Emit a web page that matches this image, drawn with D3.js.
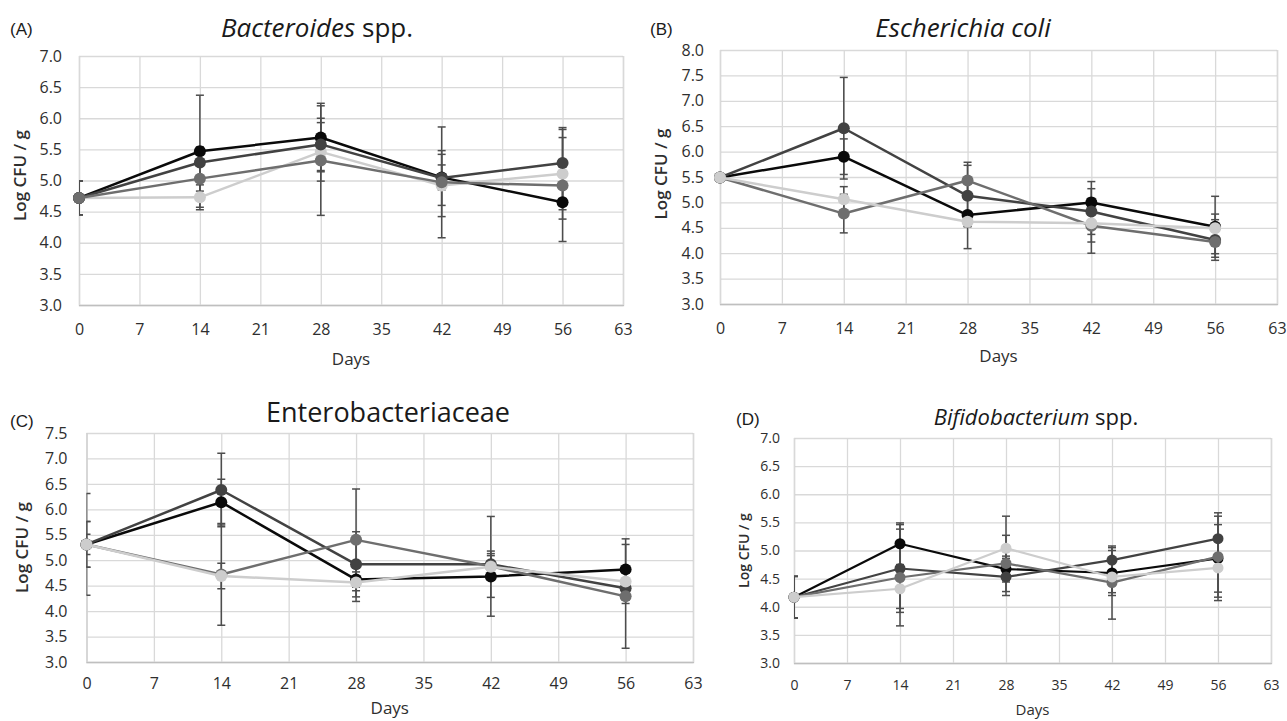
<!DOCTYPE html>
<html>
<head>
<meta charset="utf-8">
<script src="https://cdn.jsdelivr.net/npm/d3@7"></script>
<style>
  body { margin: 0; background: #fff; }
  svg { display: block; font-family: "Open Sans", sans-serif; }
</style>
</head>
<body>
<script>
// sampling days and axis ticks
var days = [0, 14, 28, 42, 56];
var dayTicks = [0, 7, 14, 21, 28, 35, 42, 49, 56, 63];

var panelLetters = ["(A)", "(B)", "(C)", "(D)"];
// title pieces: [text, italic]
var titleA = [["Bacteroides", true], [" spp.", false]];
var titleB = [["Escherichia coli", true]];
var titleC = [["Enterobacteriaceae", false]];
var titleD = [["Bifidobacterium", true], [" spp.", false]];

var yTicksA = [3.0, 3.5, 4.0, 4.5, 5.0, 5.5, 6.0, 6.5, 7.0];
var yTicksB = [3.0, 3.5, 4.0, 4.5, 5.0, 5.5, 6.0, 6.5, 7.0, 7.5, 8.0];
var yTicksC = [3.0, 3.5, 4.0, 4.5, 5.0, 5.5, 6.0, 6.5, 7.0, 7.5];
var yTicksD = [3.0, 3.5, 4.0, 4.5, 5.0, 5.5, 6.0, 6.5, 7.0];

// means per series (black, dark grey, mid grey, light grey) and their error bars
var bacteroidesMean = [
  [4.72, 5.47, 5.69, 5.05, 4.65],
  [4.72, 5.29, 5.58, 5.04, 5.28],
  [4.72, 5.03, 5.32, 4.97, 4.92],
  [4.72, 4.73, 5.46, 4.92, 5.11]
];
var bacteroidesErr = [
  [0.27, 0.90, 0.55, 0.20, 0.27],
  [0.27, 0.25, 0.42, 0.44, 0.57],
  [0.27, 0.20, 0.88, 0.89, 0.90],
  [0.27, 0.20, 0.47, 0.50, 0.58]
];

var coliMean = [
  [5.49, 5.90, 4.75, 5.00, 4.52],
  [5.49, 6.46, 5.13, 4.82, 4.26],
  [5.49, 4.78, 5.43, 4.54, 4.22],
  [5.49, 5.06, 4.62, 4.59, 4.49]
];
var coliErr = [
  [0.05, 0.35, 0.66, 0.41, 0.60],
  [0.05, 1.00, 0.60, 0.45, 0.40],
  [0.05, 0.38, 0.36, 0.54, 0.23],
  [0.05, 0.25, 0.10, 0.37, 0.28]
];

var enteroMean = [
  [5.31, 6.14, 4.62, 4.68, 4.82],
  [5.31, 6.38, 4.92, 4.92, 4.45],
  [5.31, 4.72, 5.40, 4.88, 4.29],
  [5.31, 4.69, 4.56, 4.87, 4.58]
];
var enteroErr = [
  [1.00, 0.45, 0.15, 0.41, 0.60],
  [0.45, 0.72, 0.64, 0.26, 0.30],
  [0.45, 1.00, 1.00, 0.98, 1.02],
  [0.20, 0.25, 0.37, 0.26, 0.20]
];

var bifidoMean = [
  [4.17, 5.12, 4.67, 4.60, 4.86],
  [4.17, 4.68, 4.53, 4.83, 5.21],
  [4.17, 4.52, 4.77, 4.43, 4.89],
  [4.17, 4.32, 5.04, 4.53, 4.69]
];
var bifidoErr = [
  [0.37, 0.37, 0.23, 0.40, 0.60],
  [0.37, 0.78, 0.33, 0.22, 0.40],
  [0.37, 0.86, 0.50, 0.65, 0.78],
  [0.37, 0.35, 0.57, 0.28, 0.52]
];

var seriesColors = ["#0a0a0a", "#424242", "#6e6e6e", "#cdcdcd"];

var width = 1287,
    height = 721;

var svg = d3.select("body").append("svg")
  .attr("width", width)
  .attr("height", height);

var panels = [
  {title: titleA, yTicks: yTicksA, mean: bacteroidesMean, err: bacteroidesErr, order: [3, 0, 1, 2],
   left: 79, right: 623, top: 56, bottom: 305, titleX: 317, titleY: 37, titleSize: 26,
   letterX: 10, letterY: 35, yLabelX: 20, yLabelShift: -5, labelFont: 17, daysY: 365,
   tickFont: 16, yPad: 17, xPad: 19, r: 6, lw: 2.5},
  {title: titleB, yTicks: yTicksB, mean: coliMean, err: coliErr, order: [0, 1, 2, 3],
   left: 720, right: 1277, top: 50, bottom: 304, titleX: 963, titleY: 37, titleSize: 26,
   letterX: 650, letterY: 35, yLabelX: 661, yLabelShift: -3, labelFont: 17, daysY: 362,
   tickFont: 16, yPad: 16, xPad: 19, r: 6, lw: 2.5},
  {title: titleC, yTicks: yTicksC, mean: enteroMean, err: enteroErr, order: [0, 1, 2, 3],
   left: 86.5, right: 693, top: 433, bottom: 662, titleX: 388, titleY: 422, titleSize: 27,
   letterX: 10, letterY: 427, yLabelX: 22, yLabelShift: 0, labelFont: 17, daysY: 714,
   tickFont: 16, yPad: 19, xPad: 16, r: 6, lw: 2.5},
  {title: titleD, yTicks: yTicksD, mean: bifidoMean, err: bifidoErr, order: [0, 1, 2, 3],
   left: 794, right: 1271, top: 438, bottom: 663, titleX: 1036, titleY: 425, titleSize: 22,
   letterX: 736, letterY: 425, yLabelX: 744, yLabelShift: 0, labelFont: 14, daysY: 715,
   tickFont: 14, yPad: 14, xPad: 17, r: 5.5, lw: 2.2}
];

panels.forEach(function(p, i) {
  drawPanel(p, i);
});

function drawPanel(p, i) {
  var w = p.right - p.left,
      h = p.bottom - p.top;

  var x = d3.scaleLinear().domain([0, 63]).range([0, w]);
  var y = d3.scaleLinear().domain([3, p.yTicks[p.yTicks.length - 1]]).range([h, 0]);

  var g = svg.append("g")
    .attr("transform", "translate(" + p.left + "," + p.top + ")");

  // horizontal grid + y labels
  var yAxis = g.append("g")
    .call(d3.axisLeft(y).tickValues(p.yTicks).tickFormat(d3.format(".1f"))
      .tickSize(-w).tickPadding(p.yPad));
  yAxis.select(".domain").remove();
  yAxis.selectAll("line").attr("stroke", "#d9d9d9").attr("stroke-width", 1.3);
  yAxis.selectAll("text")
    .attr("fill", "#2e2e2e")
    .style("font-size", p.tickFont + "px")
    .style("font-family", "'Open Sans', sans-serif");

  // vertical grid + x labels
  var xAxis = g.append("g")
    .attr("transform", "translate(0," + h + ")")
    .call(d3.axisBottom(x).tickValues(dayTicks).tickSize(-h).tickPadding(p.xPad));
  xAxis.select(".domain").attr("stroke", "#bfbfbf").attr("stroke-width", 1.3);
  xAxis.selectAll("line").attr("stroke", "#d9d9d9").attr("stroke-width", 1.3);
  xAxis.selectAll("text")
    .attr("fill", "#2e2e2e")
    .style("font-size", p.tickFont + "px")
    .style("font-family", "'Open Sans', sans-serif");

  // error bars, clipped to the plot area
  var clipId = "clip" + i;
  g.append("clipPath").attr("id", clipId)
    .append("rect").attr("width", w).attr("height", h + 20).attr("y", -20);

  var bars = g.append("g").attr("clip-path", "url(#" + clipId + ")");
  var capW = 4;
  p.order.forEach(function(s) {
    days.forEach(function(d, j) {
      var m = p.mean[s][j], e = p.err[s][j];
      var cx = x(d), y0 = y(m - e), y1 = y(m + e);
      var eb = bars.append("g")
        .attr("stroke", "#4d4d4d")
        .attr("stroke-width", 1.5);
      eb.append("line").attr("x1", cx).attr("x2", cx).attr("y1", y0).attr("y2", y1);
      eb.append("line").attr("x1", cx - capW).attr("x2", cx + capW).attr("y1", y0).attr("y2", y0);
      eb.append("line").attr("x1", cx - capW).attr("x2", cx + capW).attr("y1", y1).attr("y2", y1);
    });
  });

  var line = d3.line()
    .x(function(d, j) { return x(days[j]); })
    .y(function(d) { return y(d); });

  p.order.forEach(function(s) {
    var sg = g.append("g");
    sg.append("path")
      .datum(p.mean[s])
      .attr("fill", "none")
      .attr("stroke", seriesColors[s])
      .attr("stroke-width", p.lw)
      .attr("stroke-linejoin", "round")
      .attr("d", line);
    sg.selectAll("circle")
      .data(p.mean[s])
      .enter().append("circle")
      .attr("cx", function(d, j) { return x(days[j]); })
      .attr("cy", function(d) { return y(d); })
      .attr("r", p.r)
      .attr("fill", seriesColors[s]);
  });

  // panel letter
  svg.append("text")
    .attr("x", p.letterX)
    .attr("y", p.letterY)
    .style("font-family", "'Liberation Sans', Arial, sans-serif")
    .style("font-size", "17px")
    .attr("fill", "#1a1a1a")
    .text(panelLetters[i]);

  // title
  var t = svg.append("text")
    .attr("x", p.titleX)
    .attr("y", p.titleY)
    .attr("text-anchor", "middle")
    .style("font-size", p.titleSize + "px")
    .attr("fill", "#1a1a1a");
  p.title.forEach(function(part) {
    t.append("tspan")
      .style("font-style", part[1] ? "italic" : "normal")
      .text(part[0]);
  });

  // axis titles
  svg.append("text")
    .attr("transform", "translate(" + p.yLabelX + "," + (p.top + h / 2 + p.yLabelShift) + ") rotate(-90)")
    .attr("text-anchor", "middle")
    .attr("dy", "0.35em")
    .style("font-size", p.labelFont + "px")
    .style("font-weight", 600)
    .attr("fill", "#2e2e2e")
    .text("Log CFU / g");

  svg.append("text")
    .attr("x", p.left + w / 2)
    .attr("y", p.daysY)
    .attr("text-anchor", "middle")
    .style("font-size", (p.tickFont + 1) + "px")
    .attr("fill", "#2e2e2e")
    .text("Days");
}
</script>
</body>
</html>
